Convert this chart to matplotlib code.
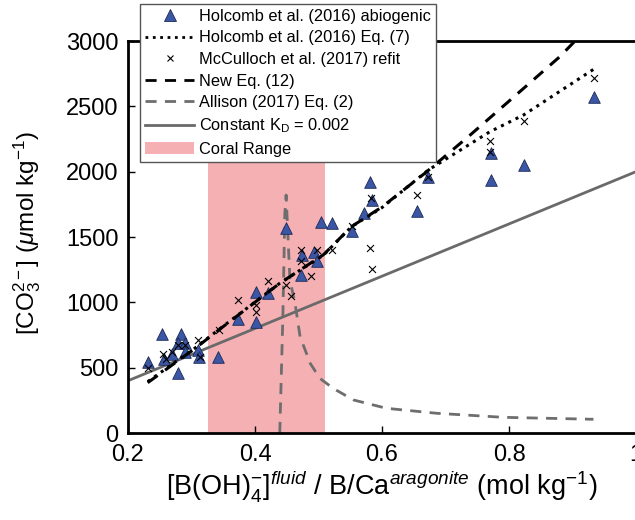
import matplotlib.pyplot as plt
from matplotlib.patches import Patch

plt.rcParams['font.family'] = ['Liberation Sans', 'DejaVu Sans']
plt.rcParams['mathtext.fontset'] = 'custom'
plt.rcParams['mathtext.rm'] = 'Liberation Sans'
plt.rcParams['mathtext.it'] = 'Liberation Sans:italic'

# Holcomb et al. (2016) abiogenic
tri_x = [0.231, 0.254, 0.284, 0.279, 0.289, 0.269, 0.257, 0.279, 0.290, 0.311, 0.312,
         0.342, 0.373, 0.401, 0.401, 0.421, 0.449, 0.474, 0.472, 0.493, 0.497, 0.504,
         0.522, 0.553, 0.571, 0.581, 0.585, 0.655, 0.673, 0.771, 0.771, 0.823, 0.934]
tri_y = [547, 756, 756, 686, 686, 601, 568, 463, 622, 639, 584,
         579, 871, 1082, 852, 1069, 1569, 1366, 1213, 1389, 1316, 1617,
         1610, 1546, 1684, 1923, 1783, 1699, 1962, 2140, 1940, 2051, 2574]

# McCulloch et al. (2017) refit
crs_x = [0.231, 0.255, 0.269, 0.260, 0.278, 0.290, 0.311, 0.314, 0.343, 0.373, 0.401,
         0.401, 0.421, 0.449, 0.457, 0.472, 0.472, 0.488, 0.497, 0.522, 0.552, 0.581,
         0.585, 0.655, 0.673, 0.770, 0.770, 0.823, 0.934, 0.583]
crs_y = [495, 605, 622, 566, 673, 673, 712, 579, 788, 1018, 980,
         928, 1166, 1136, 1052, 1316, 1400, 1202, 1404, 1397, 1588, 1413,
         1255, 1818, 1962, 2237, 2153, 2388, 2714, 1797]

# Holcomb et al. (2016) Eq. (7)
h7_x = [0.231, 0.305, 0.342, 0.439, 0.508, 0.552, 0.600, 0.673, 0.770, 0.823, 0.934]
h7_y = [393, 648, 788, 1146, 1362, 1579, 1725, 2013, 2306, 2434, 2786]

# New Eq. (12)
n12_x = [0.231, 0.305, 0.342, 0.439, 0.508, 0.552, 0.600, 0.668, 0.739, 0.781, 0.880, 0.904]
n12_y = [385, 645, 785, 1146, 1365, 1580, 1730, 1990, 2281, 2459, 2880, 3000]

# Allison (2017) Eq. (2)
al_x = [0.439, 0.444, 0.447, 0.449, 0.455, 0.463, 0.471, 0.487, 0.502, 0.523, 0.555,
        0.607, 0.686, 0.791, 0.933]
al_y = [0, 916, 1681, 1821, 1171, 993, 737, 533, 419, 342, 253,
        189, 151, 120, 105]

# Constant KD = 0.002
kd_x = [0.2, 1.0]
kd_y = [400, 2000]

coral_range = (0.326, 0.510)

fig = plt.figure(figsize=(6.35, 5.2), dpi=100)
ax = fig.add_axes([128/635, 1 - 433/520, 508/635, 392/520])

ax.axvspan(coral_range[0], coral_range[1], color='#f5b0b3', lw=0, zorder=0)
ax.plot(kd_x, kd_y, '-', color='#6a6a6a', lw=2, zorder=2)
ax.plot(al_x, al_y, '--', color='#6e6e6e', lw=2, dashes=(4, 3), zorder=2)
ax.scatter(tri_x, tri_y, marker='^', s=70, c='#3a56a5', edgecolors='#1c2a55',
           linewidths=0.6, zorder=3)
ax.scatter(crs_x, crs_y, marker='x', s=25, c='black', linewidths=0.8, zorder=4)
ax.plot(h7_x, h7_y, ':', color='black', lw=2.2, zorder=5)
ax.plot(n12_x, n12_y, '--', color='black', lw=2.2, dashes=(4, 3), zorder=5)

ax.set_xlim(0.2, 1.0)
ax.set_ylim(0, 3000)
ax.set_xticks([0.2, 0.4, 0.6, 0.8, 1.0])
ax.set_xticklabels(['0.2', '0.4', '0.6', '0.8', '1'])
ax.set_yticks(range(0, 3001, 500))
ax.tick_params(direction='in', length=5, width=1, labelsize=17, pad=7)
ax.tick_params(axis='x', pad=8)
for s in ax.spines.values():
    s.set_linewidth(2)

ax.set_ylabel('[CO$_3^{2\u2212}$] ($\\mu$mol kg$^{-1}$)', fontsize=17.5)
ax.yaxis.set_label_coords(-0.167, 0.51)
ax.set_xlabel('[B(OH)$_4^{-}$]$^{\\mathit{fluid}}$ / B/Ca$^{\\mathit{aragonite}}$ (mol kg$^{-1}$)',
              fontsize=19.5, labelpad=1)

handles = [
    plt.Line2D([], [], ls='none', marker='^', ms=8, mfc='#3a56a5', mec='#1c2a55', mew=0.6),
    plt.Line2D([], [], ls=':', color='black', lw=2),
    plt.Line2D([], [], ls='none', marker='x', ms=5, color='black', mew=0.8),
    plt.Line2D([], [], ls='--', color='black', lw=2, dashes=(4, 3)),
    plt.Line2D([], [], ls='--', color='#6e6e6e', lw=2, dashes=(4, 3)),
    plt.Line2D([], [], ls='-', color='#6a6a6a', lw=2),
    Patch(facecolor='#f5b0b3', edgecolor='none'),
]
labels = ['Holcomb et al. (2016) abiogenic', 'Holcomb et al. (2016) Eq. (7)',
          'McCulloch et al. (2017) refit', 'New Eq. (12)', 'Allison (2017) Eq. (2)',
          'Constant K$_\\mathrm{D}$ = 0.002', 'Coral Range']
leg = fig.legend(handles, labels, loc='upper left', bbox_to_anchor=(140/635, 1 - 4/520),
                 fontsize=11.8, handlelength=3.0, handletextpad=0.3, labelspacing=0.4,
                 borderpad=0.3, borderaxespad=0, fancybox=False, framealpha=1,
                 edgecolor='#555555')
leg.get_frame().set_linewidth(1)

fig.savefig('out.png', dpi=100)
